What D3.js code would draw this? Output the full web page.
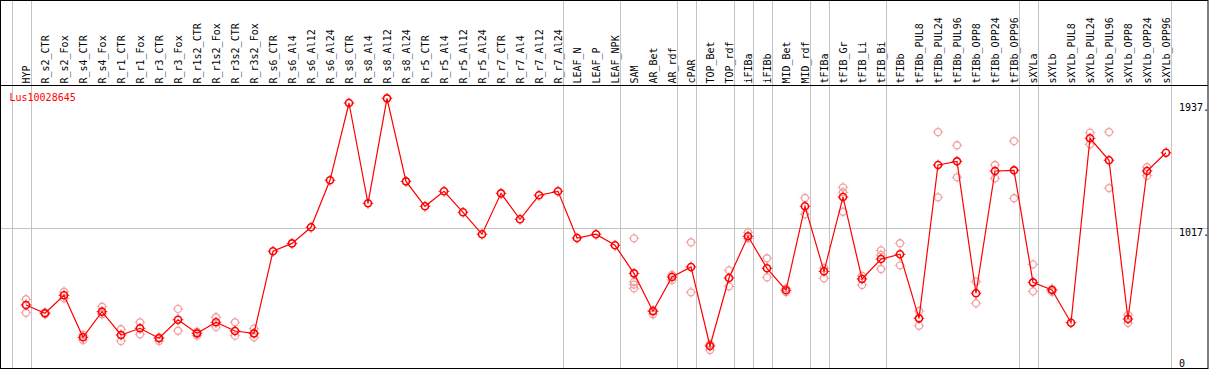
<!DOCTYPE html>
<html><head><meta charset="utf-8">
<script src="https://cdn.jsdelivr.net/npm/d3@7"></script>
<style>
html,body{margin:0;padding:0;background:#fff;}
svg{display:block;}
text{font-family:"DejaVu Sans Mono",monospace;font-size:10px;}
</style></head>
<body><svg id="c" width="1209" height="370"></svg>
<script>
const geneId = "Lus10028645";
const categories = ["HYP","R_s2_CTR","R_s2_Fox","R_s4_CTR","R_s4_Fox","R_r1_CTR","R_r1_Fox","R_r3_CTR","R_r3_Fox","R_r1s2_CTR","R_r1s2_Fox","R_r3s2_CTR","R_r3s2_Fox","R_s6_CTR","R_s6_Al4","R_s6_Al12","R_s6_Al24","R_s8_CTR","R_s8_Al4","R_s8_Al12","R_s8_Al24","R_r5_CTR","R_r5_Al4","R_r5_Al12","R_r5_Al24","R_r7_CTR","R_r7_Al4","R_r7_Al12","R_r7_Al24","LEAF_N","LEAF_P","LEAF_NPK","SAM","AR_Bet","AR_rdf","cPAR","TOP_Bet","TOP_rdf","iFIBa","iFIBb","MID_Bet","MID_rdf","tFIBa","tFIB_Gr","tFIB_Li","tFIB_Bi","tFIBb","tFIBb_PUL8","tFIBb_PUL24","tFIBb_PUL96","tFIBb_OPP8","tFIBb_OPP24","tFIBb_OPP96","sXYLa","sXYLb","sXYLb_PUL8","sXYLb_PUL24","sXYLb_PUL96","sXYLb_OPP8","sXYLb_OPP24","sXYLb_OPP96"];
const meanValues = [455,394,526,218,406,235,284,211,347,247,328,264,247,849,907,1025,1370,1937,1201,1971,1362,1179,1289,1135,974,1274,1084,1260,1289,946,974,893,687,409,660,734,154,653,959,724,563,1179,702,1247,646,792,827,357,1482,1509,541,1438,1443,621,565,325,1678,1517,352,1438,1572];
const replicates = [[497,398],[388,400],[552,504],[235,198],[442,387],[277,191],[328,240],[218,191],[426,266],[259,230],[365,293],[328,230],[281,218],[],[],[],[],[],[],[],[],[],[],[],[],[],[],[],[],[],[],[],[944,625,605,577],[416,387],[675,638],[915,548],[167,125],[709,592],[988,944],[798,658],[577,550],[1240,1120],[726,651],[1318,1282,1139],[668,602],[856,822,719],[908,746],[411,303],[1724,1245],[1627,1392],[626,467],[1482,1384],[1658,1238],[753,555],[572,552],[],[1719,1634],[1724,1313],[382,323],[1467,1404],[]];
const groupEnds = ["HYP","R_r7_Al24","LEAF_NPK","AR_rdf","cPAR","TOP_rdf","iFIBa","iFIBb","MID_rdf","tFIBa","tFIB_Bi","tFIBb_OPP96","sXYLa","sXYLb_OPP96"];
const yTicks = [0,1017,1937];
const yTickLabels = ["0","1017.","1937."];
const gridValues = [1017];

const svg = d3.select("#c");
const headerBottom = 85, plotBottom = 368;
const x = d3.scalePoint().domain(categories).range([26,1166]);
const step = x.step();
const y = d3.scaleLinear().domain([0,1937]).range([367,103]);
const grid = "#c4c4c4";

// separators
const sepX = [x(categories[0]) - step + 4.5].concat(groupEnds.map(c => x(c) + 4.5));
svg.append("g").selectAll("line").data(sepX).join("line")
  .attr("x1", d => Math.round(d)+0.5).attr("x2", d => Math.round(d)+0.5)
  .attr("y1", 0).attr("y2", plotBottom)
  .attr("stroke", grid).attr("stroke-width", 1);

// horizontal grid
svg.append("g").selectAll("line").data(gridValues).join("line")
  .attr("x1", 0).attr("x2", 1208)
  .attr("y1", d => Math.round(y(d))+0.5).attr("y2", d => Math.round(y(d))+0.5)
  .attr("stroke", grid);

// frame
svg.append("rect").attr("x",0.5).attr("y",0.5).attr("width",1207.5).attr("height",plotBottom)
  .attr("fill","none").attr("stroke","#000");
svg.append("line").attr("x1",0).attr("x2",1208).attr("y1",headerBottom+0.5).attr("y2",headerBottom+0.5).attr("stroke","#000");

// column labels
svg.append("g").selectAll("text").data(categories).join("text")
  .attr("transform", d => `translate(${x(d)+3.5},83.5) rotate(-90)`)
  .attr("text-anchor","start").attr("fill","#000").text(d => d);

// y axis labels
svg.append("g").selectAll("text").data(yTicks).join("text")
  .attr("x", 1179)
  .attr("y", (d,i) => Math.min(y(d) + 7.5, 366.5))
  .attr("fill","#000").text((d,i) => yTickLabels[i]);

// title
svg.append("text").attr("x",9.5).attr("y",100.8).attr("fill","#ff0000").text(geneId);

function marker(g, cx, cy, color, sw){
  const r = 3.5;
  g.append("circle").attr("cx",cx).attr("cy",cy).attr("r",r).attr("fill","none").attr("stroke",color).attr("stroke-width",sw);
  [[0,-1],[0,1],[-1,0],[1,0]].forEach(([dx,dy]) => {
    g.append("line").attr("x1",cx+dx*(r+0.5)).attr("y1",cy+dy*(r+0.5))
      .attr("x2",cx+dx*(r+1.8)).attr("y2",cy+dy*(r+1.8))
      .attr("stroke",color).attr("stroke-width",1);
  });
}

// replicates
const repG = svg.append("g");
categories.forEach((c,i) => replicates[i].forEach(v => marker(repG, x(c), y(v), "#f0a0a0", 1.3)));

// mean line
svg.append("path").datum(meanValues)
  .attr("d", d3.line().x((d,i) => x(categories[i])).y(d => y(d)))
  .attr("fill","none").attr("stroke","#ff0000").attr("stroke-width",1.2);

const mG = svg.append("g");
categories.forEach((c,i) => marker(mG, x(c), y(meanValues[i]), "#ff0000", 1.6));
</script></body></html>
